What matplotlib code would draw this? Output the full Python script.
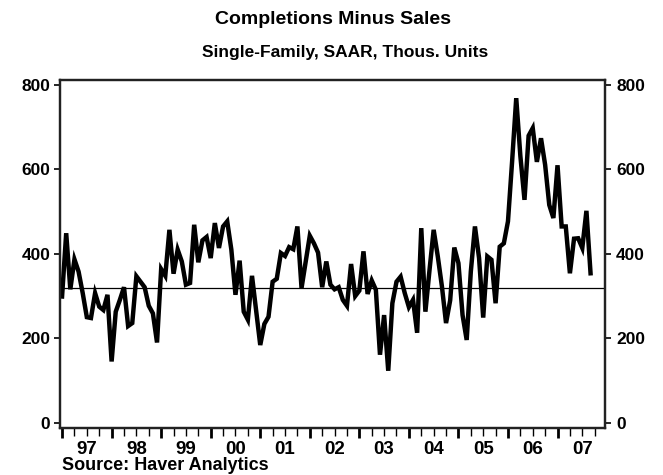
import matplotlib
matplotlib.use("Agg")
import matplotlib.pyplot as plt
from matplotlib.ticker import FixedLocator, FuncFormatter

# monthly, Jan 1997 .. Sep 2007, thous. units SAAR
values = [
    299, 449, 316, 387, 358, 307, 250, 248, 307, 275, 267, 303,   # 1997
    145, 263, 291, 321, 229, 236, 347, 334, 321, 277, 259, 190,   # 1998
    364, 348, 457, 353, 410, 382, 327, 331, 469, 380, 432, 440,   # 1999
    390, 473, 414, 465, 477, 410, 303, 384, 263, 244, 348, 267,   # 2000
    184, 234, 251, 334, 341, 402, 395, 416, 411, 465, 319, 381,   # 2001
    443, 425, 403, 321, 382, 327, 316, 321, 291, 277, 376, 300,   # 2002
    313, 406, 305, 337, 315, 161, 255, 123, 283, 334, 346, 307,   # 2003
    274, 291, 213, 461, 263, 362, 457, 394, 323, 236, 290, 415,   # 2004
    378, 255, 196, 358, 465, 390, 249, 394, 386, 283, 417, 425,   # 2005
    477, 619, 769, 632, 528, 680, 698, 618, 674, 611, 516, 485,   # 2006
    610, 465, 465, 354, 436, 437, 414, 502, 354,                  # 2007
]
years = ["97", "98", "99", "00", "01", "02", "03", "04", "05", "06", "07"]
ref_level = 320
y_ticks = [0, 200, 400, 600, 800]

plt.rcParams["font.family"] = ["Liberation Sans", "DejaVu Sans"]

fig = plt.figure(figsize=(6.63, 4.75), dpi=100)
ax = fig.add_axes([60 / 663, 1 - 428 / 475, 545 / 663, 348 / 475])

months = list(range(len(values)))
ax.plot(months, values, color="black", lw=3.2, solid_joinstyle="miter")
ax.axhline(ref_level, color="black", lw=0.9)

ax.set_xlim(-0.5, 12 * len(years) - 0.5)
ax.set_ylim(-12.6, 812)

# x axis: year starts = major, quarters = minor, labels mid-year
ax.xaxis.set_major_locator(FixedLocator([12 * k for k in range(len(years) + 1)]))
ax.xaxis.set_minor_locator(FixedLocator([3 * k for k in range(4 * len(years) + 1)]))
ax.xaxis.set_major_formatter(FuncFormatter(lambda v, p: ""))
ax.xaxis.set_minor_formatter(FuncFormatter(
    lambda v, p: years[int(v) // 12] if int(v) % 12 == 6 and int(v) // 12 < len(years) else ""))
ax.tick_params(axis="x", which="major", direction="out", length=7, width=2.0, color="black", labelsize=0)
ax.tick_params(axis="x", which="minor", direction="out", length=6, width=1.0, color="black",
               labelsize=13.5, pad=3)
for lbl in ax.get_xticklabels(minor=True):
    lbl.set_fontweight("bold")

ax.set_yticks(y_ticks)
ax.tick_params(axis="y", direction="out", length=4, width=1.2, labelsize=12.5, pad=3)
for lbl in ax.get_yticklabels():
    lbl.set_fontweight("bold")

ax2 = ax.twinx()
ax2.set_ylim(ax.get_ylim())
ax2.set_yticks(y_ticks)
ax2.tick_params(axis="y", direction="out", length=4, width=1.2, labelsize=12.5, pad=4)
for lbl in ax2.get_yticklabels():
    lbl.set_fontweight("bold")

for a in (ax, ax2):
    for s in a.spines.values():
        s.set_linewidth(1.6)
        s.set_color("#222222")

fig.text(0.502, 1 - 19 / 475, "Completions Minus Sales", ha="center", va="center",
         fontsize=14, fontweight="bold")
fig.text(0.52, 1 - 53 / 475, "Single-Family, SAAR, Thous. Units", ha="center", va="center",
         fontsize=12.5, fontweight="bold")
fig.text(62 / 663, 1 - 466 / 475, "Source: Haver Analytics", ha="left", va="center",
         fontsize=13, fontweight="bold")

fig.savefig("out.png", dpi=100)
